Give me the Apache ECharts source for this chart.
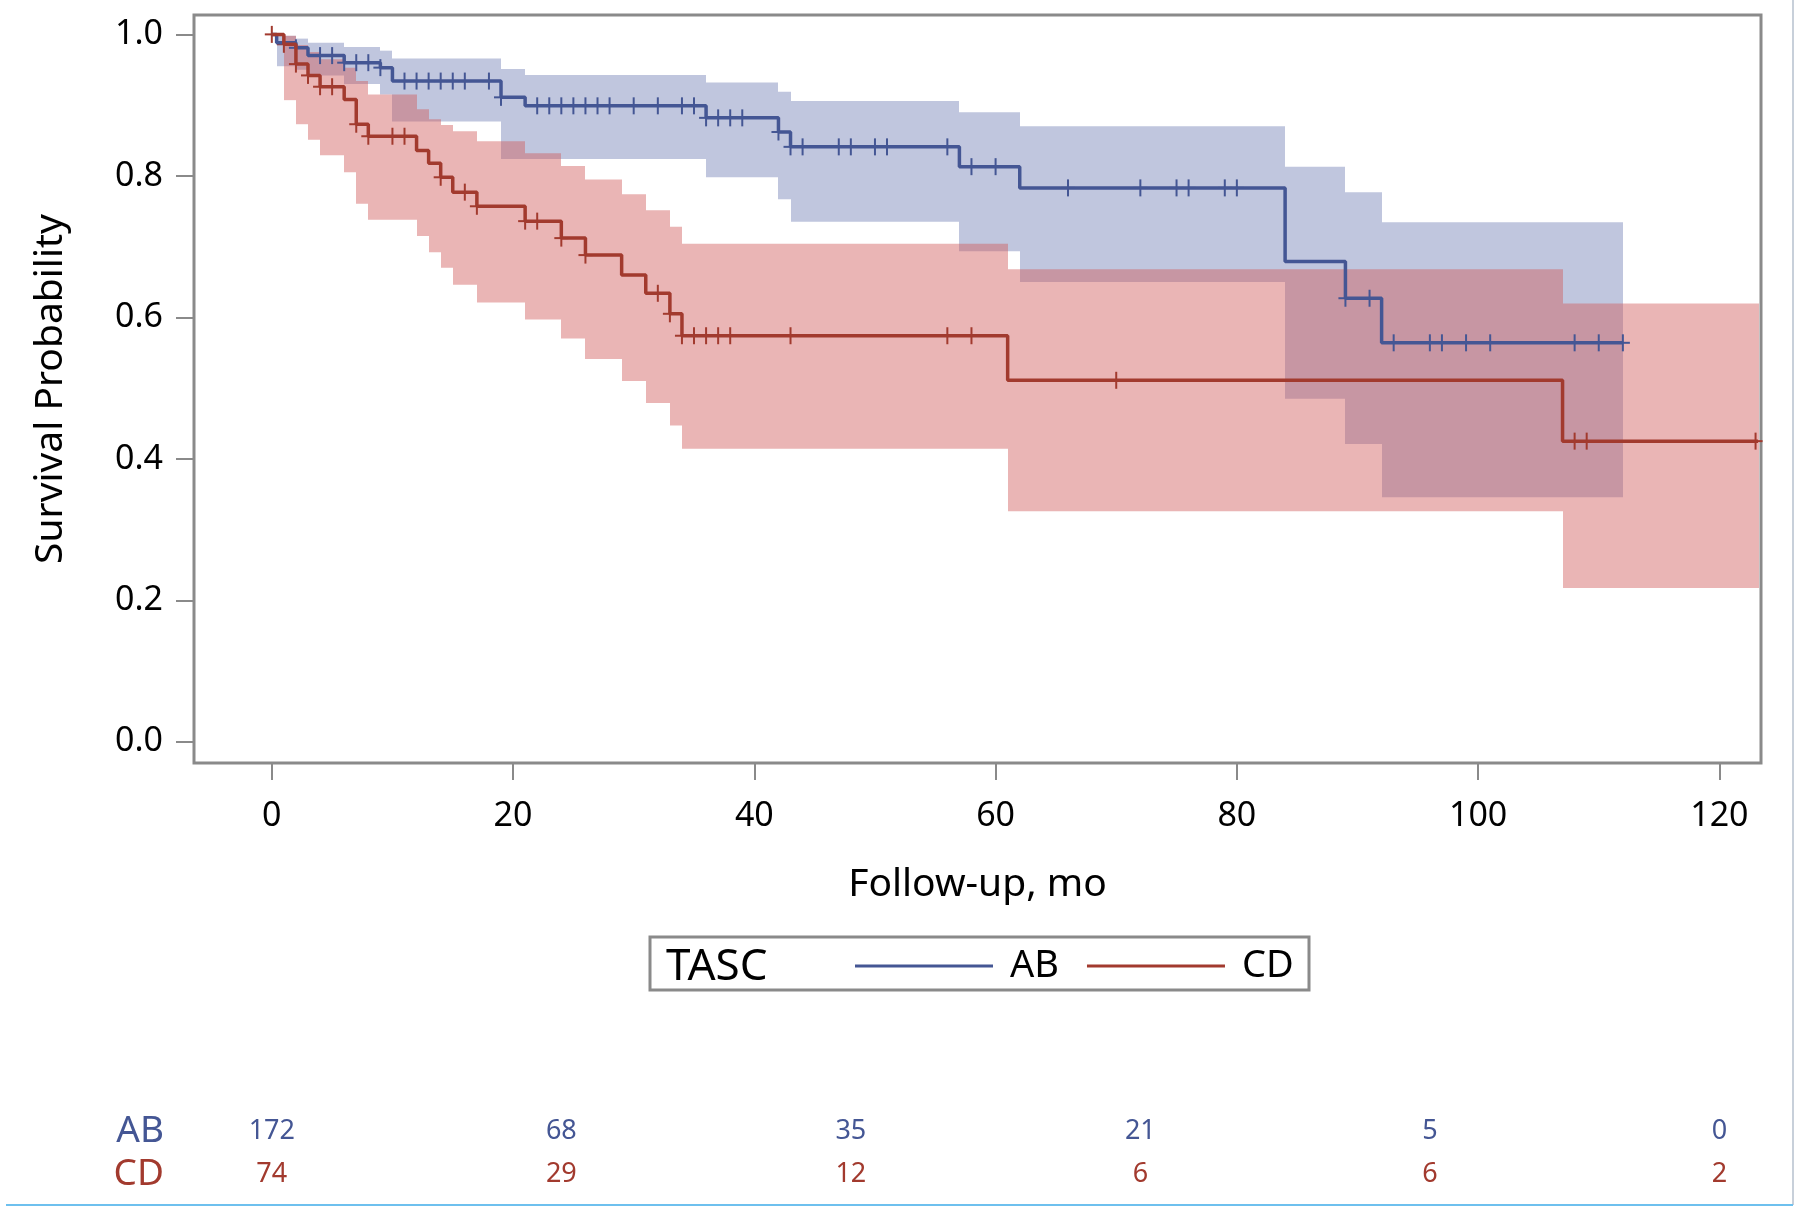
<!DOCTYPE html>
<html>
<head>
<meta charset="utf-8">
<script src="https://cdn.jsdelivr.net/npm/echarts@6/dist/echarts.min.js"></script>
<style>
  html, body { margin: 0; padding: 0; background: #fff; }
  #chart { width: 1800px; height: 1212px; }
</style>
</head>
<body>
<div id="chart"></div>
<script>
// 生存曲线：TASC AB vs CD

// 阶梯曲线 (时间, 生存概率)
const abTimes = [0, 0.4, 2, 3, 6, 9, 10, 19, 21, 36, 42, 43, 57, 62, 84, 89, 92, 112];
const abSurv = [1.0, 0.988, 0.981, 0.970, 0.960, 0.953, 0.934, 0.911, 0.899, 0.882, 0.862, 0.841, 0.813, 0.783, 0.679, 0.627, 0.564, 0.564];
const cdTimes = [0, 1, 2, 3, 4, 6, 7, 8, 12, 13, 14, 15, 17, 21, 24, 26, 29, 31, 33, 34, 61, 107, 123.2];
const cdSurv = [1.0, 0.986, 0.958, 0.942, 0.926, 0.908, 0.873, 0.856, 0.836, 0.818, 0.798, 0.777, 0.757, 0.736, 0.712, 0.688, 0.660, 0.634, 0.605, 0.574, 0.511, 0.425, 0.425];

// 删失时间
const abCensor = [2, 4, 5, 6, 7, 8, 9, 11, 12, 13, 14, 15, 16, 18, 19, 22, 23, 24, 25, 26, 27, 28, 30, 32, 34, 35,
  36, 37, 38, 39, 42, 43, 44, 47, 48, 50, 51, 56, 58, 60, 66, 72, 75, 76, 79, 80, 89, 91, 93, 96, 97, 99, 101, 108, 110, 112];
const cdCensor = [0, 1, 2, 3, 4, 5, 7, 8, 10, 11, 14, 16, 17, 21, 22, 24, 26, 32, 33, 34, 35, 36, 37, 38, 43, 56, 58, 70, 108, 109, 123];

// 置信带 [起始时间, 下限, 上限]
const abBand = [
  [0.4, 0.955, 0.998], [2, 0.950, 0.994], [3, 0.942, 0.988], [6, 0.930, 0.982], [9, 0.915, 0.977],
  [10, 0.877, 0.966], [19, 0.824, 0.951], [21, 0.824, 0.9425], [36, 0.798, 0.932], [42, 0.767, 0.919],
  [43, 0.735, 0.906], [57, 0.6935, 0.890], [62, 0.650, 0.870], [84, 0.485, 0.813], [89, 0.421, 0.777],
  [92, 0.3456, 0.7346], [112, 0.3456, 0.7346]
];
const cdBand = [
  [1, 0.907, 0.998], [2, 0.873, 0.985], [3, 0.851, 0.975], [4, 0.829, 0.965], [6, 0.805, 0.953],
  [7, 0.7605, 0.934], [8, 0.738, 0.915], [12, 0.715, 0.894], [13, 0.692, 0.880], [14, 0.670, 0.872],
  [15, 0.646, 0.863], [17, 0.621, 0.849], [21, 0.597, 0.832], [24, 0.570, 0.814], [26, 0.541, 0.795],
  [29, 0.510, 0.774], [31, 0.479, 0.7515], [33, 0.447, 0.728], [34, 0.4144, 0.704], [61, 0.3258, 0.668],
  [107, 0.2174, 0.6195], [123.3, 0.2174, 0.6195]
];

// 风险人数表
const riskTimes = [0, 24, 48, 72, 96, 120];
const riskAB = [172, 68, 35, 21, 5, 0];
const riskCD = [74, 29, 12, 6, 6, 2];

const xTicks = [0, 20, 40, 60, 80, 100, 120];
const yTicks = [0, 0.2, 0.4, 0.6, 0.8, 1.0];

const BLUE = '#445694';
const RED = '#a23a2e';
const FONT = 'Noto Sans';

function levelAt(times, surv, t) {
  let v = surv[0];
  for (let i = 0; i < times.length; i++) {
    if (times[i] <= t) v = surv[i];
  }
  return v;
}

function bandItems(band) {
  const out = [];
  for (let i = 0; i < band.length - 1; i++) {
    out.push([band[i][0], band[i + 1][0], band[i][1], band[i][2]]);
  }
  return out;
}

function bandSeries(band, fill) {
  return {
    type: 'custom',
    xAxisIndex: 0, yAxisIndex: 0,
    data: bandItems(band),
    encode: { x: [0, 1], y: [2, 3] },
    renderItem: function (params, api) {
      const a = api.coord([api.value(0), api.value(3)]);
      const b = api.coord([api.value(1), api.value(2)]);
      const x0 = Math.round(a[0]), x1 = Math.round(b[0]);
      return {
        type: 'rect',
        shape: { x: x0, y: a[1], width: x1 - x0, height: b[1] - a[1] },
        style: { fill: fill }
      };
    },
    silent: true
  };
}

function censorSeries(times, surv, list, color) {
  return {
    type: 'custom',
    xAxisIndex: 0, yAxisIndex: 0,
    data: list.map(t => [t, levelAt(times, surv, t)]),
    encode: { x: 0, y: 1 },
    renderItem: function (params, api) {
      const p = api.coord([api.value(0), api.value(1)]);
      return {
        type: 'group',
        children: [
          { type: 'line', shape: { x1: p[0], y1: p[1] - 8.5, x2: p[0], y2: p[1] + 8.5 }, style: { stroke: color, lineWidth: 2 } },
          { type: 'line', shape: { x1: p[0] - 7, y1: p[1], x2: p[0] + 7, y2: p[1] }, style: { stroke: color, lineWidth: 2 } }
        ]
      };
    },
    silent: true
  };
}

function stepSeries(name, times, surv, color) {
  return {
    name: name,
    type: 'line',
    xAxisIndex: 0, yAxisIndex: 0,
    step: 'end',
    symbol: 'none',
    data: times.map((t, i) => [t, surv[i]]),
    lineStyle: { color: color, width: 3.5 },
    itemStyle: { color: color },
    silent: true
  };
}

function riskSeries(row, values, color) {
  return {
    type: 'custom',
    xAxisIndex: 1, yAxisIndex: 1,
    data: riskTimes.map((t, i) => [t, row, values[i]]),
    encode: { x: 0, y: 1 },
    renderItem: function (params, api) {
      const p = api.coord([api.value(0), row === 'AB' ? 0 : 1]);
      return {
        type: 'text',
        x: p[0], y: p[1],
        style: {
          text: String(api.value(2)),
          fill: color,
          fontSize: 27,
          fontFamily: FONT,
          align: 'center',
          verticalAlign: 'middle'
        }
      };
    },
    silent: true
  };
}

const chart = echarts.init(document.getElementById('chart'));

const option = {
  animation: false,
  backgroundColor: '#fff',
  textStyle: { fontFamily: FONT },
  grid: [
    { left: 194, top: 15, width: 1567, height: 748, show: true, borderColor: '#8a8a8a', borderWidth: 3, backgroundColor: 'transparent' },
    { left: 194, top: 1110, width: 1567, height: 86 }
  ],
  xAxis: [
    {
      type: 'value', gridIndex: 0, min: -6.45, max: 123.45,
      axisLine: { show: false, onZero: false },
      splitLine: { show: false },
      axisTick: { show: true, length: 17, customValues: xTicks, lineStyle: { color: '#8a8a8a', width: 2 } },
      axisLabel: { customValues: xTicks, fontSize: 34, color: '#000', margin: 36, fontFamily: FONT },
      name: 'Follow-up, mo', nameLocation: 'middle', nameGap: 102,
      nameTextStyle: { fontSize: 39, color: '#000', fontFamily: FONT }
    },
    {
      type: 'value', gridIndex: 1, min: -6.45, max: 123.45, show: false
    }
  ],
  yAxis: [
    {
      type: 'value', gridIndex: 0, min: -0.030, max: 1.0274,
      axisLine: { show: false, onZero: false },
      splitLine: { show: false },
      axisTick: { show: true, length: 18, customValues: yTicks, lineStyle: { color: '#8a8a8a', width: 2 } },
      axisLabel: { customValues: yTicks, fontSize: 34, color: '#000', margin: 31, fontFamily: FONT,
        formatter: v => v.toFixed(1) },
      name: 'Survival Probability', nameLocation: 'middle', nameGap: 124,
      nameTextStyle: { fontSize: 39, color: '#000', fontFamily: FONT }
    },
    {
      type: 'category', gridIndex: 1, data: ['AB', 'CD'], inverse: true,
      axisLine: { show: false, onZero: false }, axisTick: { show: false }, splitLine: { show: false },
      axisLabel: { interval: 0, fontSize: 37, margin: 30, fontFamily: FONT,
        color: v => (v === 'AB' ? BLUE : RED) }
    }
  ],
  legend: {
    data: [{ name: 'AB', icon: 'rect' }, { name: 'CD', icon: 'rect' }],
    left: 855, top: 947,
    padding: 0,
    itemWidth: 138, itemHeight: 3, itemGap: 28,
    textStyle: { fontSize: 38, color: '#000', fontFamily: FONT, padding: [0, 0, 0, 12] },
    selectedMode: false
  },
  graphic: [
    { type: 'rect', shape: { x: 650, y: 937, width: 659, height: 53 }, style: { fill: 'none', stroke: '#8a8a8a', lineWidth: 3 }, silent: true },
    { type: 'text', x: 666, y: 967, style: { text: 'TASC', fontSize: 44, fontFamily: FONT, fill: '#000', verticalAlign: 'middle' }, silent: true },
    { type: 'line', shape: { x1: 1793, y1: 0, x2: 1793, y2: 1205 }, style: { stroke: '#c8d0da', lineWidth: 2 }, silent: true },
    { type: 'line', shape: { x1: 6, y1: 1205, x2: 1793, y2: 1205 }, style: { stroke: '#6ec0ee', lineWidth: 2 }, silent: true }
  ],
  series: [
    bandSeries(abBand, 'rgba(111,126,179,0.44)'),
    bandSeries(cdBand, 'rgba(208,91,91,0.45)'),
    stepSeries('AB', abTimes, abSurv, BLUE),
    stepSeries('CD', cdTimes, cdSurv, RED),
    censorSeries(abTimes, abSurv, abCensor, BLUE),
    censorSeries(cdTimes, cdSurv, cdCensor, RED),
    riskSeries('AB', riskAB, BLUE),
    riskSeries('CD', riskCD, RED)
  ]
};

chart.setOption(option);
</script>
</body>
</html>
